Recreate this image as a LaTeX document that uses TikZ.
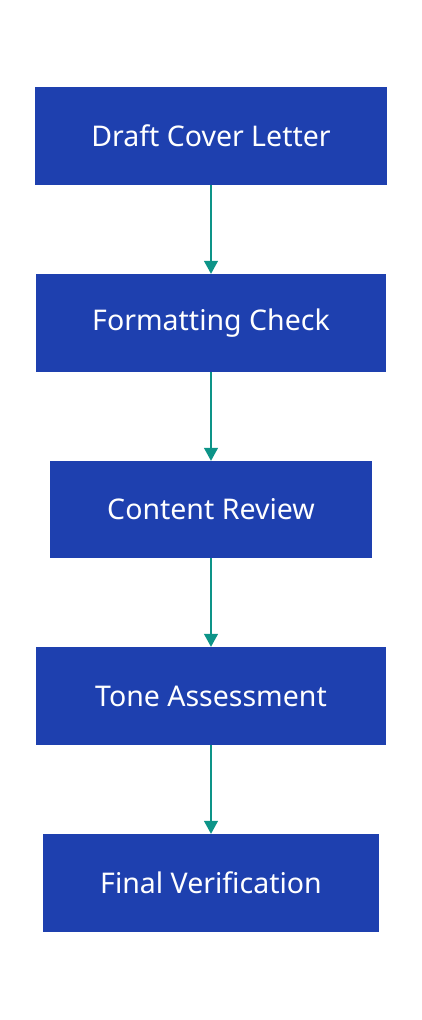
\documentclass[tikz,border=0pt]{standalone}
\usepackage{fontspec}
\setmainfont{Noto Sans}
\usetikzlibrary{arrows.meta}
\definecolor{boxblue}{HTML}{1E40AF}
\definecolor{arrteal}{HTML}{0D9488}
\tikzset{
  stepbox/.style={fill=boxblue, draw=none, text=white, font=\fontsize{28.5}{32}\selectfont, inner sep=0pt},
  conn/.style={draw=arrteal, line width=1.3pt, -{Triangle[length=13pt,width=14pt]}}
}
\begin{document}
\begin{tikzpicture}[x=1pt,y=-1pt]
\useasboundingbox (0,0) rectangle (422,1020);
\node[stepbox, minimum width=352pt, minimum height=98pt] (a) at (211,136) {Draft Cover Letter};
\node[stepbox, minimum width=350pt, minimum height=98pt] (b) at (211,323) {Formatting Check};
\node[stepbox, minimum width=322pt, minimum height=97pt] (c) at (211,509.5) {Content Review};
\node[stepbox, minimum width=350pt, minimum height=98pt] (d) at (211,696) {Tone Assessment};
\node[stepbox, minimum width=336pt, minimum height=98pt] (e) at (211,883) {Final Verification};
\draw[conn] (a) -- (b);
\draw[conn] (b) -- (c);
\draw[conn] (c) -- (d);
\draw[conn] (d) -- (e);
\end{tikzpicture}
\end{document}
